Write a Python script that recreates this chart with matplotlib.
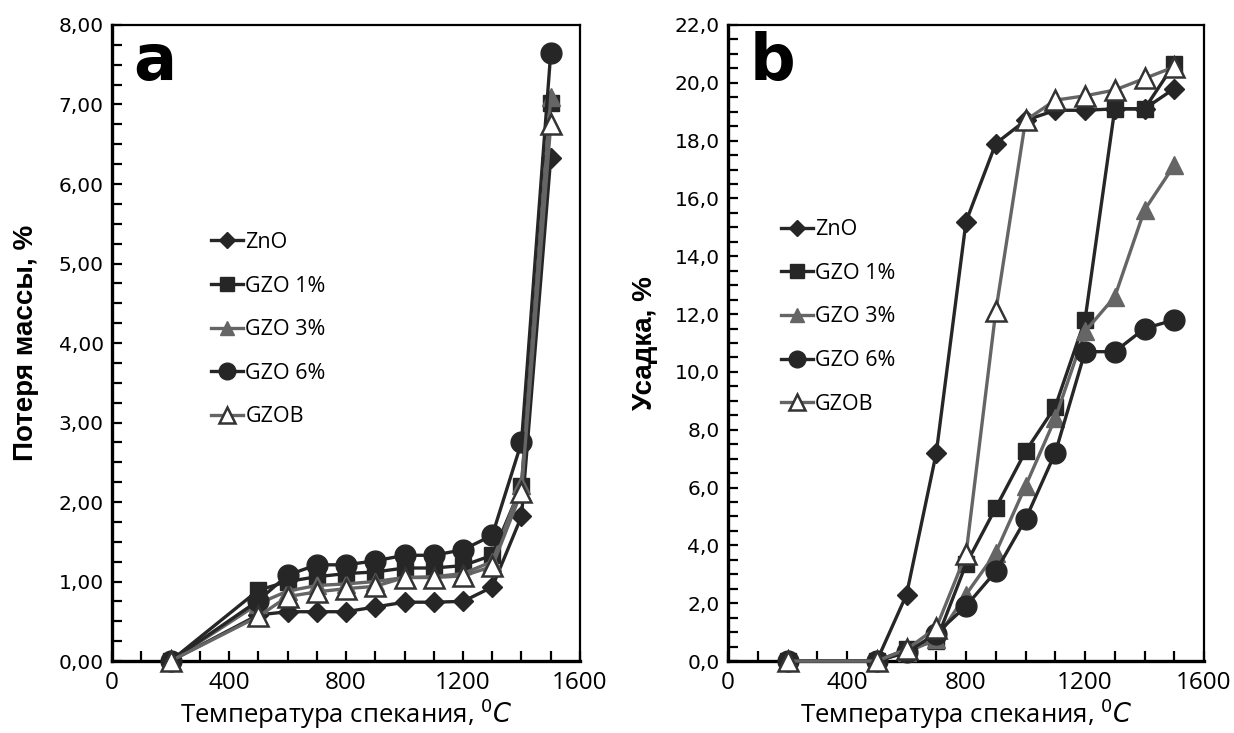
import matplotlib
matplotlib.use('Agg')
import matplotlib.pyplot as plt
from matplotlib.ticker import MultipleLocator, FuncFormatter

# Температура спекания, °C
temp = [200, 500, 600, 700, 800, 900, 1000, 1100, 1200, 1300, 1400, 1500]

# (a) потеря массы, %
loss_zno = [0, 0.58, 0.62, 0.62, 0.62, 0.68, 0.74, 0.74, 0.75, 0.93, 1.82, 6.33]
loss_gzo1 = [0, 0.89, 1.0, 1.06, 1.1, 1.12, 1.17, 1.17, 1.2, 1.33, 2.2, 7.02]
loss_gzo3 = [0, 0.72, 0.88, 0.95, 0.97, 1.0, 1.05, 1.06, 1.1, 1.25, 2.22, 7.1]
loss_gzo6 = [0, 0.76, 1.08, 1.21, 1.21, 1.26, 1.33, 1.33, 1.4, 1.58, 2.75, 7.65]
loss_gzob = [0, 0.56, 0.81, 0.87, 0.91, 0.94, 1.05, 1.05, 1.07, 1.19, 2.13, 6.75]

# (b) усадка, %
shr_zno = [0, 0, 2.3, 7.2, 15.2, 17.9, 18.7, 19.05, 19.05, 19.1, 19.1, 19.8]
shr_gzo1 = [0, 0, 0.4, 0.7, 3.35, 5.3, 7.25, 8.8, 11.8, 19.1, 19.1, 20.65]
shr_gzo3 = [0, 0, 0.3, 0.75, 2.3, 3.75, 6.05, 8.4, 11.4, 12.6, 15.6, 17.15]
shr_gzo6 = [0, 0, 0.3, 0.95, 1.9, 3.1, 4.9, 7.2, 10.7, 10.7, 11.5, 11.8]
shr_gzob = [0, 0, 0.4, 1.15, 3.7, 12.1, 18.7, 19.4, 19.55, 19.75, 20.15, 20.55]

labels = ['ZnO', 'GZO 1%', 'GZO 3%', 'GZO 6%', 'GZOB']
dark = '#262626'
gray = '#656565'
styles = [
    dict(color=dark, marker='D', ms=10, mfc=dark, mec=dark),
    dict(color=dark, marker='s', ms=12, mfc=dark, mec=dark),
    dict(color=gray, marker='^', ms=13, mfc=gray, mec=gray),
    dict(color=dark, marker='o', ms=15, mfc=dark, mec=dark),
    dict(color=gray, marker='^', ms=14, mfc='white', mec='#333333', mew=1.8),
]

tick_font = ['Open Sans', 'DejaVu Sans']
label_font = ['Liberation Sans Narrow', 'Liberation Sans', 'DejaVu Sans']

fig = plt.figure(figsize=(12.34, 7.33), dpi=100)
ax1 = fig.add_axes([0.0908, 0.0982, 0.3792, 0.8677])
ax2 = fig.add_axes([0.590, 0.0982, 0.3857, 0.8677])


def setup(ax, ymax, ymajor, yminor, fmt, ylabel, letter, ylpad):
    ax.set_xlim(0, 1600)
    ax.set_ylim(0, ymax)
    ax.xaxis.set_major_locator(MultipleLocator(400))
    ax.xaxis.set_minor_locator(MultipleLocator(100))
    ax.yaxis.set_major_locator(MultipleLocator(ymajor))
    ax.yaxis.set_minor_locator(MultipleLocator(yminor))
    ax.yaxis.set_major_formatter(FuncFormatter(lambda v, p: (fmt % v).replace('.', ',')))
    ax.tick_params(which='both', direction='in', length=7, width=1.6, color='black')
    ax.tick_params(axis='x', labelsize=17.5, pad=7)
    ax.tick_params(axis='y', labelsize=14.5, pad=6)
    for t in ax.get_xticklabels():
        t.set_family(tick_font)
    for t in ax.get_yticklabels():
        t.set_family(['DejaVu Sans'])
    for s in ['left', 'bottom']:
        ax.spines[s].set_linewidth(2.4)
    for s in ['top', 'right']:
        ax.spines[s].set_linewidth(1.6)
    ax.set_xlabel(r'Температура спекания, $^{0}C$', fontsize=18.5, family=tick_font, labelpad=1)
    ax.set_ylabel(ylabel, fontsize=20, fontweight='bold', family=label_font, labelpad=ylpad)
    ax.text(0.045, 0.99, letter, transform=ax.transAxes, fontsize=46, fontweight='bold',
            family=['DejaVu Sans'], va='top', ha='left')


for series, st, lab in zip([loss_zno, loss_gzo1, loss_gzo3, loss_gzo6, loss_gzob], styles, labels):
    ax1.plot(temp, series, lw=2.4, label=lab, clip_on=False, zorder=3, **st)
for series, st, lab in zip([shr_zno, shr_gzo1, shr_gzo3, shr_gzo6, shr_gzob], styles, labels):
    ax2.plot(temp, series, lw=2.4, label=lab, clip_on=False, zorder=3, **st)

setup(ax1, 8, 1, 0.25, '%.2f', 'Потеря массы, %', 'a', 14)
setup(ax2, 22, 2, 0.5, '%.1f', 'Усадка, %', 'b', 12)

leg_kw = dict(frameon=False, handlelength=1.5, handletextpad=0.1,
              labelspacing=1.05, markerscale=0.8, prop={'family': tick_font, 'size': 15.5})
ax1.legend(loc='upper left', bbox_to_anchor=(0.17, 0.705), **leg_kw)
ax2.legend(loc='upper left', bbox_to_anchor=(0.07, 0.725), **leg_kw)

fig.savefig('out.png', dpi=100)
